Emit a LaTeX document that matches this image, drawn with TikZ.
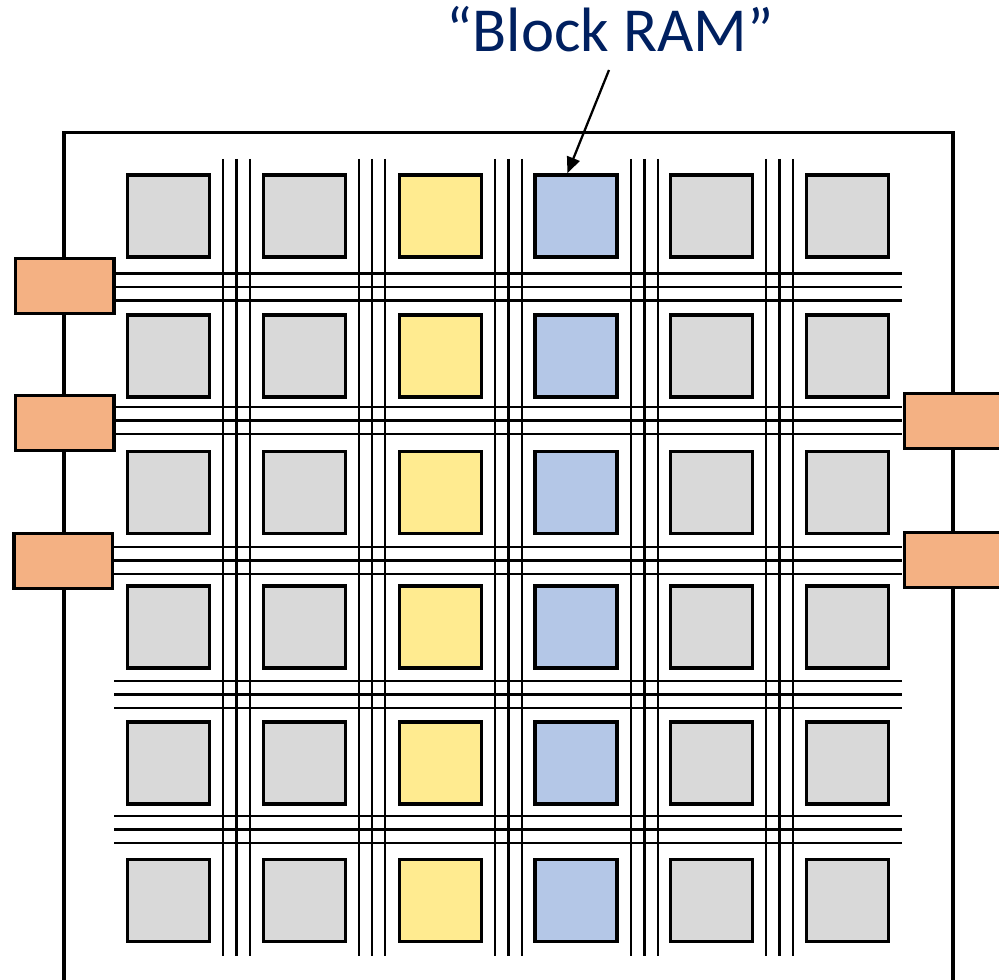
\documentclass[tikz,border=0pt]{standalone}
\usepackage{fontspec}
\setmainfont{Carlito}
\usetikzlibrary{arrows.meta,calc}
\definecolor{cellgrey}{HTML}{D9D9D9}
\definecolor{cellyellow}{HTML}{FFEB90}
\definecolor{cellblue}{HTML}{B4C7E7}
\definecolor{padorange}{HTML}{F4B183}
\definecolor{navy}{HTML}{002060}
\tikzset{
  cell/.style={draw=black, line width=2.7pt, minimum size=61.5pt, inner sep=0pt},
  pad/.style={draw=black, line width=2.5pt, fill=padorange, minimum width=74pt, minimum height=41.5pt, inner sep=0pt},
  wire/.style={draw=black, line width=1.7pt},
  chip/.style={draw=black, line width=2.4pt},
  label/.style={font=\fontsize{47}{56}\selectfont, text=navy, inner sep=0pt},
  pointer/.style={draw=black, line width=1.7pt, -{Triangle[length=12pt,width=10pt]}}
}
\begin{document}
\begin{tikzpicture}[x=0.75pt,y=-0.75pt]
\useasboundingbox (0,0) rectangle (999,980);
\clip (0,0) rectangle (999,980);
% chip outline
\draw[chip] (64,1010) -- (64,132.5) -- (953,132.5) -- (953,1010);
% vertical wire bundles
\foreach \cx in {236.5,372,508.5,644.5,779.5}{
  \foreach \d in {-13.3,0,13.3}{
    \draw[wire] (\cx+\d,159) -- (\cx+\d,956);
  }
}
% horizontal wire bundles
\foreach \cy in {287,420.5,560.5,694.5,829.5}{
  \foreach \d in {-13.5,0,13.5}{
    \draw[wire] (114,\cy+\d) -- (902,\cy+\d);
  }
}
% cells
\foreach \r/\cy in {1/216,2/356,3/492.5,4/627,5/763,6/900.5}{
  \node[cell, fill=cellgrey]   (c\r-1) at (168.5,\cy) {};
  \node[cell, fill=cellgrey]   (c\r-2) at (304.5,\cy) {};
  \node[cell, fill=cellyellow] (c\r-3) at (440.5,\cy) {};
  \node[cell, fill=cellblue]   (c\r-4) at (576,\cy) {};
  \node[cell, fill=cellgrey]   (c\r-5) at (711.5,\cy) {};
  \node[cell, fill=cellgrey]   (c\r-6) at (847.5,\cy) {};
}
% I/O pads
\node[pad] (pl1) at (64.5,286) {};
\node[pad] (pl2) at (64.5,423) {};
\node[pad] (pl3) at (63.3,561) {};
\node[pad] (pr1) at (954,421) {};
\node[pad] (pr2) at (954,560) {};
% label
\node[label, anchor=base] (lbl) at (610,52) {“Block RAM”};
\coordinate (tail) at (609,70);
\coordinate (head) at ($(c1-4.north west)!0.4!(c1-4.north east)$);
\draw[pointer] (tail) -- (head);
\end{tikzpicture}
\end{document}
